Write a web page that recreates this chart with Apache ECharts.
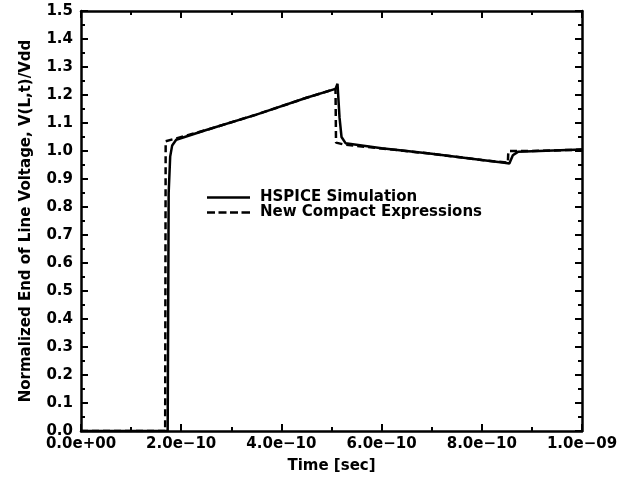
<!DOCTYPE html>
<html>
<head>
<meta charset="utf-8">
<script src="https://cdn.jsdelivr.net/npm/echarts@6/dist/echarts.min.js"></script>
<style>html,body{margin:0;padding:0;background:#fff}#c{width:635px;height:483px}</style>
</head>
<body>
<div id="c"></div>
<script>
// time in seconds, normalized voltage
const hspiceT = [0, 1.73e-10, 1.75e-10, 1.78e-10, 1.82e-10, 1.9e-10, 2.5e-10, 3.5e-10, 4.5e-10, 5.08e-10, 5.12e-10, 5.16e-10, 5.2e-10, 5.28e-10, 6.0e-10, 7.0e-10, 8.0e-10, 8.45e-10, 8.55e-10, 8.62e-10, 8.72e-10, 9.0e-10, 1.0e-9];
const hspiceV = [0, 0, 0.85, 0.98, 1.02, 1.04, 1.075, 1.13, 1.19, 1.222, 1.24, 1.12, 1.05, 1.028, 1.01, 0.99, 0.968, 0.958, 0.955, 0.985, 0.997, 0.999, 1.005];
const compactT = [0, 1.68e-10, 1.69e-10, 1.9e-10, 2.5e-10, 3.5e-10, 4.5e-10, 5.08e-10, 5.09e-10, 5.25e-10, 6.0e-10, 7.0e-10, 8.0e-10, 8.52e-10, 8.53e-10, 9.0e-10, 1.0e-9];
const compactV = [0, 0, 1.035, 1.045, 1.075, 1.13, 1.19, 1.222, 1.03, 1.023, 1.009, 0.99, 0.968, 0.958, 1.0, 1.0, 1.005];
const seriesNames = ['HSPICE Simulation', 'New Compact Expressions'];
const xTitle = 'Time [sec]';
const yTitle = 'Normalized End of Line Voltage, V(L,t)/Vdd';

function zip(a, b) { return a.map((x, i) => [x, b[i]]); }
function fmtX(v) {
  if (Math.abs(v) < 1e-15) return '0.0e+00';
  const s = v.toExponential(1);
  const parts = s.split('e');
  const sign = parts[1][0];
  const d = parts[1].slice(1).padStart(2, '0');
  return parts[0] + 'e' + (sign === '-' ? '\u2212' : '+') + d;
}
const font = 'DejaVu Sans';
function tick() { return { show: true, inside: true, length: 7, lineStyle: { color: '#000', width: 2 } }; }
function minor() { return { show: true, splitNumber: 2, length: 4, lineStyle: { color: '#000', width: 2 } }; }
function line() { return { show: true, onZero: false, lineStyle: { color: '#000', width: 2.5 } }; }
const txt = { color: '#000', fontFamily: font, fontWeight: 'bold', fontSize: 15 };
const solidIcon = 'path://M0,0H43V2.5H0Z';
const dashIcon = 'path://M0,0h8v2.5h-8z M11.5,0h8v2.5h-8z M23,0h8v2.5h-8z M34.5,0h8.5v2.5h-8.5z';

const chart = echarts.init(document.getElementById('c'));
chart.setOption({
  animation: false,
  grid: { left: 81, right: 53, top: 11, bottom: 52 },
  legend: {
    orient: 'vertical', left: 207, top: 190, padding: 0, itemGap: 0, itemWidth: 43, itemHeight: 14,
    textStyle: Object.assign({ lineHeight: 15, padding: [0, 0, 0, 5] }, txt),
    data: [{ name: seriesNames[0], icon: solidIcon }, { name: seriesNames[1], icon: dashIcon }]
  },
  xAxis: [
    { type: 'value', min: 0, max: 1e-9, interval: 2e-10, position: 'bottom',
      axisLine: line(), axisTick: tick(), minorTick: minor(), splitLine: { show: false },
      axisLabel: Object.assign({ margin: 6, formatter: fmtX }, txt),
      name: xTitle, nameLocation: 'middle', nameGap: 28, nameTextStyle: Object.assign({}, txt) },
    { type: 'value', min: 0, max: 1e-9, interval: 2e-10, position: 'top',
      axisLine: line(), axisTick: tick(), minorTick: minor(), splitLine: { show: false },
      axisLabel: { show: false } }
  ],
  yAxis: [
    { type: 'value', min: 0, max: 1.5, interval: 0.1, position: 'left',
      axisLine: line(), axisTick: tick(), minorTick: minor(), splitLine: { show: false },
      axisLabel: Object.assign({ margin: 8, formatter: v => v.toFixed(1) }, txt),
      name: yTitle, nameLocation: 'middle', nameGap: 47, nameTextStyle: Object.assign({}, txt) },
    { type: 'value', min: 0, max: 1.5, interval: 0.1, position: 'right',
      axisLine: line(), axisTick: tick(), minorTick: minor(), splitLine: { show: false },
      axisLabel: { show: false } }
  ],
  series: [
    { name: seriesNames[0], type: 'line', data: zip(hspiceT, hspiceV), symbol: 'none',
      lineStyle: { color: '#000', width: 2.5, type: 'solid' }, itemStyle: { color: '#000' } },
    { name: seriesNames[1], type: 'line', data: zip(compactT, compactV), symbol: 'none',
      lineStyle: { color: '#000', width: 2.5, type: [7, 4] }, itemStyle: { color: '#000' } }
  ]
});
</script>
</body>
</html>
